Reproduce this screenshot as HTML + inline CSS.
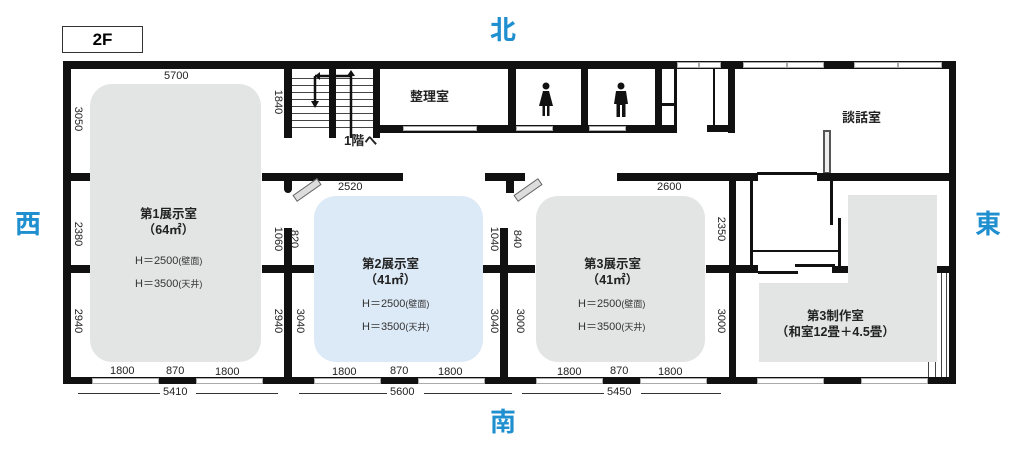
<!DOCTYPE html>
<html><head><meta charset="utf-8"><style>
body{margin:0;width:1024px;height:452px;background:#fff;position:relative;overflow:hidden;font-family:"Liberation Sans","Noto Sans CJK JP",sans-serif}
.w{position:absolute;background:#111}
.g{position:absolute;background:#e3e4e4;border-radius:22px}
.win{position:absolute;background:#fff;border:1px solid #aaa;box-sizing:border-box}
.t{position:absolute;font-size:11px;color:#222;white-space:nowrap}
.v{position:absolute;font-size:11px;color:#222;white-space:nowrap;transform:rotate(90deg);transform-origin:center}
.b{position:absolute;font-weight:bold;font-size:12.5px;color:#222;text-align:center;line-height:16px;white-space:nowrap}
.h{position:absolute;font-size:11px;color:#333;text-align:center;white-space:nowrap}
.h small{font-size:9px}
.dir{position:absolute;color:#1f8fd0;font-weight:bold;font-size:26px}
.ln{position:absolute;height:1px;background:#333}
</style></head><body>
<div style="position:absolute;left:62px;top:26px;width:81px;height:27px;border:1px solid #333;box-sizing:border-box;text-align:center;font-weight:bold;font-size:17px;line-height:26px">2F</div>
<div class="dir" style="left:490px;top:10px">北</div>
<div class="dir" style="left:490px;top:402px">南</div>
<div class="dir" style="left:15px;top:204px">西</div>
<div class="dir" style="left:975px;top:204px">東</div>

<div class="w" style="left:63px;top:61px;width:893px;height:8px"></div>
<div class="w" style="left:63px;top:61px;width:8px;height:323px"></div>
<div class="w" style="left:949px;top:61px;width:7px;height:323px"></div>
<div class="w" style="left:63px;top:377px;width:893px;height:7px"></div>
<div class="win" style="left:677px;top:62px;width:22px;height:6px"></div>
<div class="win" style="left:699px;top:62px;width:22px;height:6px"></div>
<div class="win" style="left:743px;top:62px;width:44px;height:6px"></div>
<div class="win" style="left:787px;top:62px;width:37px;height:6px"></div>
<div class="win" style="left:854px;top:62px;width:44px;height:6px"></div>
<div class="win" style="left:898px;top:62px;width:44px;height:6px"></div>
<div class="win" style="left:92px;top:378px;width:67px;height:6px"></div>
<div class="win" style="left:196px;top:378px;width:67px;height:6px"></div>
<div class="win" style="left:314px;top:378px;width:67px;height:6px"></div>
<div class="win" style="left:418px;top:378px;width:67px;height:6px"></div>
<div class="win" style="left:536px;top:378px;width:67px;height:6px"></div>
<div class="win" style="left:640px;top:378px;width:67px;height:6px"></div>
<div class="win" style="left:757px;top:378px;width:67px;height:6px"></div>
<div class="win" style="left:861px;top:378px;width:67px;height:6px"></div>

<div class="w" style="left:284px;top:61px;width:8px;height:77px"></div>
<div class="w" style="left:373px;top:61px;width:7px;height:77px"></div>
<div style="position:absolute;left:292px;top:72px;width:81px;height:62px;background:repeating-linear-gradient(#fff 0,#fff 6px,#444 6px,#444 7px)"></div>
<div class="w" style="left:329px;top:69px;width:7px;height:69px"></div>
<svg style="position:absolute;left:300px;top:66px" width="70" height="72">
<path d="M15 10 H51 M51 72 V10 M15 10 V38" stroke="#111" stroke-width="2.5" fill="none"/>
<polygon points="15,10 20,6 20,14" fill="#111"/>
<polygon points="51,4 47,10 55,10" fill="#111"/>
<polygon points="15,42 11,35 19,35" fill="#111"/>
</svg>
<div class="t" style="left:344px;top:130px;font-weight:bold;font-size:13px">1階へ</div>
<div class="w" style="left:373px;top:125px;width:303px;height:8px"></div>
<div class="win" style="left:403px;top:126px;width:74px;height:5px"></div>
<div class="win" style="left:516px;top:126px;width:37px;height:5px"></div>
<div class="win" style="left:589px;top:126px;width:37px;height:5px"></div>
<div class="w" style="left:508px;top:61px;width:8px;height:72px"></div>
<div class="w" style="left:581px;top:61px;width:7px;height:72px"></div>
<div class="w" style="left:655px;top:61px;width:7px;height:72px"></div>
<div class="w" style="left:662px;top:103px;width:14px;height:3px"></div>
<div class="w" style="left:674px;top:61px;width:3px;height:72px"></div>
<div class="w" style="left:713px;top:69px;width:2px;height:58px"></div>
<div class="w" style="left:728px;top:61px;width:7px;height:72px"></div>
<div class="w" style="left:707px;top:125px;width:28px;height:7px"></div>
<div class="b" style="left:410px;top:89px;font-size:13px">整理室</div>
<svg style="position:absolute;left:538px;top:82px" width="16" height="36" viewBox="0 0 16 36">
<circle cx="8" cy="4" r="3.5" fill="#111"/><path d="M5 9 H11 L15 24 H1 Z" fill="#111"/><rect x="4.5" y="23" width="2.5" height="11" fill="#111"/><rect x="9" y="23" width="2.5" height="11" fill="#111"/></svg>
<svg style="position:absolute;left:613px;top:82px" width="16" height="36" viewBox="0 0 16 36">
<circle cx="8" cy="4" r="3.5" fill="#111"/><path d="M3 9 H13 L15 22 H12.5 V35 H9 V23 H7 V35 H3.5 V22 H1 Z" fill="#111"/></svg>
<div class="b" style="left:842px;top:110px;font-size:13px">談話室</div>
<div style="position:absolute;left:823px;top:130px;width:8px;height:44px;border:2px solid #555;box-sizing:border-box;background:#eee"></div>

<div class="w" style="left:63px;top:173px;width:30px;height:8px"></div>
<div class="w" style="left:262px;top:173px;width:141px;height:8px"></div>
<div class="w" style="left:485px;top:173px;width:40px;height:8px"></div>
<div class="w" style="left:617px;top:173px;width:141px;height:8px"></div>
<div class="w" style="left:757px;top:172px;width:60px;height:3px"></div>
<div class="w" style="left:817px;top:173px;width:139px;height:8px"></div>
<div style="position:absolute;left:292px;top:186px;width:28px;height:6px;background:#ddd;border:1px solid #666;transform:rotate(-35deg)"></div>
<div style="position:absolute;left:513px;top:186px;width:28px;height:6px;background:#ddd;border:1px solid #666;transform:rotate(-35deg)"></div>
<div class="w" style="left:284px;top:173px;width:8px;height:20px;border-radius:0 0 4px 4px"></div>
<div class="w" style="left:506px;top:173px;width:8px;height:20px"></div>

<div class="w" style="left:284px;top:228px;width:8px;height:156px"></div>
<div class="w" style="left:500px;top:228px;width:8px;height:156px"></div>
<div class="w" style="left:729px;top:173px;width:7px;height:211px"></div>
<div class="w" style="left:750px;top:181px;width:3px;height:90px"></div>
<div class="w" style="left:830px;top:181px;width:3px;height:44px"></div>
<div class="w" style="left:838px;top:218px;width:3px;height:52px"></div>
<div class="w" style="left:752px;top:250px;width:86px;height:2px"></div>
<div class="w" style="left:63px;top:265px;width:30px;height:8px"></div>
<div class="w" style="left:262px;top:265px;width:52px;height:8px"></div>
<div class="w" style="left:483px;top:265px;width:52px;height:8px"></div>
<div class="w" style="left:706px;top:265px;width:52px;height:8px"></div>
<div class="w" style="left:758px;top:271px;width:40px;height:3px"></div>
<div class="w" style="left:795px;top:264px;width:40px;height:3px"></div>
<div class="w" style="left:832px;top:266px;width:16px;height:7px"></div>
<div class="w" style="left:855px;top:271px;width:45px;height:3px"></div>
<div class="w" style="left:891px;top:264px;width:40px;height:3px"></div>
<div class="w" style="left:928px;top:266px;width:28px;height:7px"></div>
<div class="w" style="left:928px;top:273px;width:1px;height:104px;background:#444"></div>
<div class="w" style="left:935px;top:273px;width:1px;height:104px;background:#444"></div>
<div class="w" style="left:941px;top:273px;width:1px;height:104px;background:#444"></div>
<div class="w" style="left:946px;top:273px;width:1px;height:104px;background:#444"></div>
<div class="w" style="left:929px;top:377px;width:27px;height:7px"></div>

<div class="g" style="left:90px;top:84px;width:171px;height:278px"></div>
<div class="g" style="left:314px;top:196px;width:169px;height:166px;background:#dce9f6"></div>
<div class="g" style="left:536px;top:196px;width:169px;height:166px"></div>
<div style="position:absolute;left:848px;top:195px;width:89px;height:90px;background:#e3e4e4"></div>
<div style="position:absolute;left:759px;top:283px;width:178px;height:79px;background:#e3e4e4"></div>

<div class="b" style="left:140px;top:206px">第1展示室<br>（64㎡）</div>
<div class="h" style="left:135px;top:252px">H＝2500<small>(壁面)</small></div>
<div class="h" style="left:135px;top:275px">H＝3500<small>(天井)</small></div>
<div class="b" style="left:362px;top:256px">第2展示室<br>（41㎡）</div>
<div class="h" style="left:362px;top:295px">H＝2500<small>(壁面)</small></div>
<div class="h" style="left:362px;top:318px">H＝3500<small>(天井)</small></div>
<div class="b" style="left:584px;top:256px">第3展示室<br>（41㎡）</div>
<div class="h" style="left:578px;top:295px">H＝2500<small>(壁面)</small></div>
<div class="h" style="left:578px;top:318px">H＝3500<small>(天井)</small></div>
<div class="b" style="left:776px;top:308px">第3制作室<br>（和室12畳＋4.5畳）</div>

<div class="t" style="left:164px;top:70px">5700</div>
<div class="t" style="left:338px;top:181px">2520</div>
<div class="t" style="left:657px;top:181px">2600</div>
<div class="v" style="left:66px;top:113px">3050</div>
<div class="v" style="left:66px;top:228px">2380</div>
<div class="v" style="left:66px;top:315px">2940</div>
<div class="v" style="left:266px;top:96px">1840</div>
<div class="v" style="left:266px;top:233px">1060</div>
<div class="v" style="left:285px;top:233px">820</div>
<div class="v" style="left:266px;top:315px">2940</div>
<div class="v" style="left:288px;top:315px">3040</div>
<div class="v" style="left:482px;top:233px">1040</div>
<div class="v" style="left:508px;top:233px">840</div>
<div class="v" style="left:482px;top:315px">3040</div>
<div class="v" style="left:508px;top:315px">3000</div>
<div class="v" style="left:709px;top:223px">2350</div>
<div class="v" style="left:709px;top:315px">3000</div>
<div class="t" style="left:110px;top:365px">1800</div>
<div class="t" style="left:166px;top:365px">870</div>
<div class="t" style="left:215px;top:366px">1800</div>
<div class="t" style="left:332px;top:366px">1800</div>
<div class="t" style="left:390px;top:365px">870</div>
<div class="t" style="left:438px;top:366px">1800</div>
<div class="t" style="left:557px;top:366px">1800</div>
<div class="t" style="left:610px;top:365px">870</div>
<div class="t" style="left:658px;top:366px">1800</div>
<div class="ln" style="left:78px;top:393px;width:82px"></div><div class="t" style="left:163px;top:386px">5410</div><div class="ln" style="left:196px;top:393px;width:82px"></div>
<div class="ln" style="left:299px;top:393px;width:88px"></div><div class="t" style="left:390px;top:386px">5600</div><div class="ln" style="left:424px;top:393px;width:88px"></div>
<div class="ln" style="left:522px;top:393px;width:82px"></div><div class="t" style="left:607px;top:386px">5450</div><div class="ln" style="left:641px;top:393px;width:80px"></div>
</body></html>
